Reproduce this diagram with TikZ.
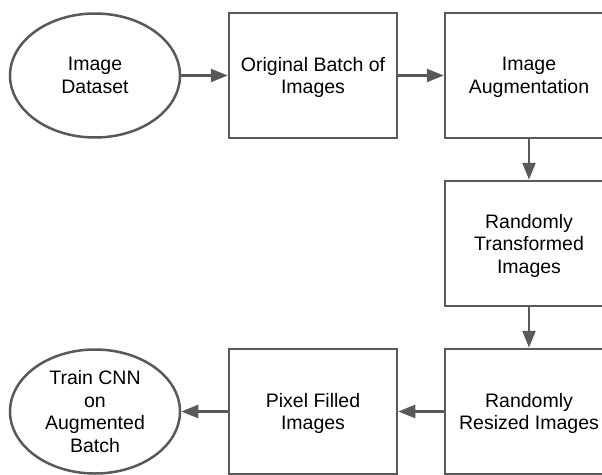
\documentclass[tikz,border=0pt]{standalone}
\usepackage{fontspec}
\setmainfont{Liberation Sans}
\usetikzlibrary{shapes.geometric,arrows.meta}
\definecolor{linegray}{HTML}{595959}
\tikzset{
    box/.style={draw=linegray, line width=2.5pt, rectangle, minimum width=168pt, minimum height=125pt, inner sep=0pt, text depth=0pt, align=center},
    oval/.style={draw=linegray, line width=2.5pt, ellipse, minimum width=170pt, minimum height=124pt, inner sep=0pt, text depth=0pt, align=center},
    arr/.style={draw=linegray, line width=2.5pt, -{Triangle[length=17pt,width=13pt]}}
}
\begin{document}
\begin{tikzpicture}[x=1pt, y=-1pt, font=\fontsize{19.5}{22.5}\selectfont]
        % 画布大小与裁剪
        \useasboundingbox (0,0) rectangle (602,474);
        \clip (0,0) rectangle (602,474);
        % 第一行
        \node[oval] (data) at (95,75.5) {Image\\Dataset};
        \node[box] (orig) at (313,75.5) {Original Batch of\\Images};
        \node[box] (aug) at (529,75.5) {Image\\Augmentation};
        % 第二行
        \node[box] (trans) at (529,243.5) {Randomly\\Transformed\\Images};
        % 第三行
        \node[box] (resize) at (529,411.5) {Randomly\\Resized Images};
        \node[box] (pixel) at (313,411.5) {Pixel Filled\\Images};
        \node[oval] (train) at (95,411.5) {Train CNN\\on\\Augmented\\Batch};
        % 箭头
        \draw[arr] (data) -- (orig);
        \draw[arr] (orig) -- (aug);
        \draw[arr] (aug) -- (trans);
        \draw[arr] (trans) -- (resize);
        \draw[arr] (resize) -- (pixel);
        \draw[arr] (pixel) -- (train);
    \end{tikzpicture}
\end{document}
